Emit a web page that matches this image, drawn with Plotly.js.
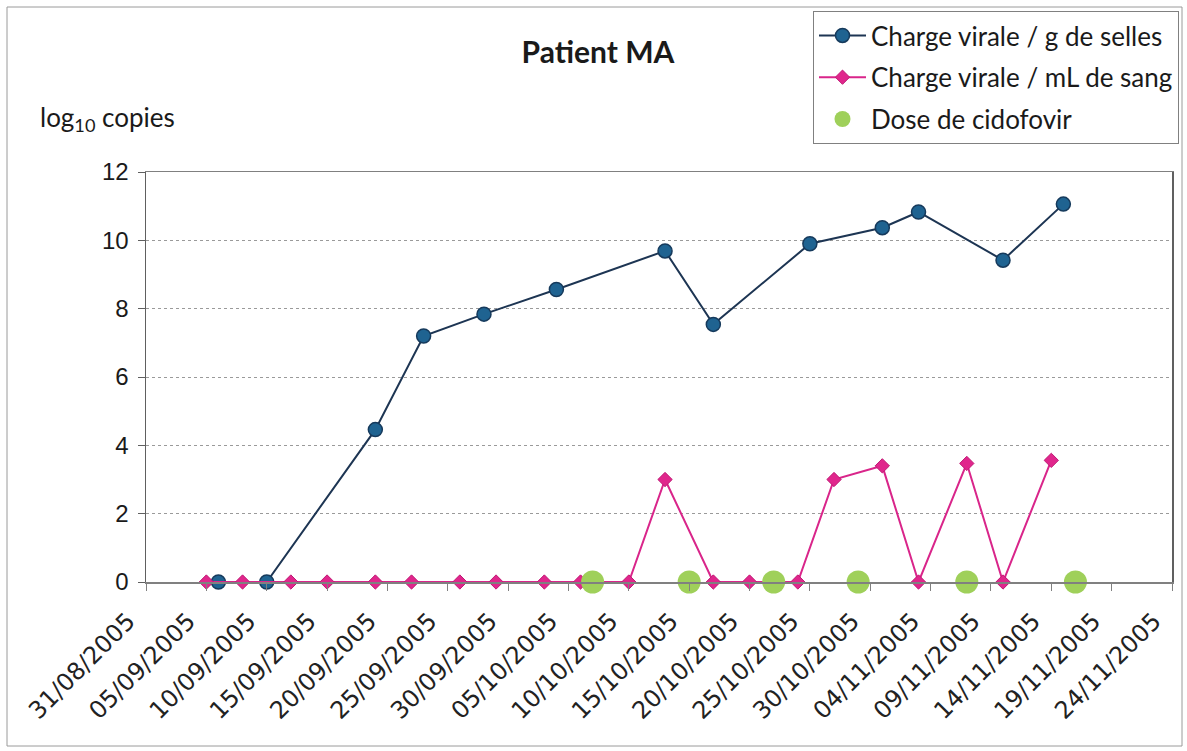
<!DOCTYPE html>
<html>
<head>
<meta charset="utf-8">
<script src="https://cdn.plot.ly/plotly-3.0.1.min.js"></script>
<style>html,body{margin:0;padding:0;background:#fff;}#chart{width:1187px;height:751px;}</style>
</head>
<body>
<div id="chart"></div>
<script>
// Data
var stoolDates = ['2005-09-06','2005-09-10','2005-09-19','2005-09-23','2005-09-28','2005-10-04','2005-10-13','2005-10-17','2005-10-25','2005-10-31','2005-11-03','2005-11-10','2005-11-15'];
var stoolValues = [0, 0, 4.46, 7.2, 7.84, 8.56, 9.69, 7.54, 9.9, 10.37, 10.83, 9.42, 11.06];

var bloodDates = ['2005-09-05','2005-09-08','2005-09-12','2005-09-15','2005-09-19','2005-09-22','2005-09-26','2005-09-29','2005-10-03','2005-10-06','2005-10-10','2005-10-13','2005-10-17','2005-10-20','2005-10-24','2005-10-27','2005-10-31','2005-11-03','2005-11-07','2005-11-10','2005-11-14'];
var bloodValues = [0, 0, 0, 0, 0, 0, 0, 0, 0, 0, 0, 3.0, 0, 0, 0, 3.0, 3.4, 0, 3.47, 0, 3.56];

var doseDates = ['2005-10-07','2005-10-15','2005-10-22','2005-10-29','2005-11-07','2005-11-16'];
var doseValues = [0, 0, 0, 0, 0, 0];

var seriesNames = ['Charge virale / g de selles', 'Charge virale / mL de sang', 'Dose de cidofovir'];
var titleText = 'Patient MA';
var yLabel = 'log<sub>10</sub> copies';

var textFont = 'Lato, "Open Sans", sans-serif';
var tickFont = '"DejaVu Sans", Verdana, sans-serif';

var traces = [
  {
    x: stoolDates, y: stoolValues, name: seriesNames[0], type: 'scatter', mode: 'lines+markers',
    legendgroup: 'a',
    line: {color: '#1d3553', width: 2},
    marker: {symbol: 'circle', size: 14, color: '#1f6391', line: {color: '#163a5c', width: 1.5}},
    cliponaxis: false
  },
  {
    x: bloodDates, y: bloodValues, name: seriesNames[1], type: 'scatter', mode: 'lines+markers',
    legendgroup: 'b',
    line: {color: '#d9258a', width: 2},
    marker: {symbol: 'diamond', size: 11, color: '#e0268c', line: {color: '#c01a75', width: 1}},
    cliponaxis: false
  },
  {
    x: doseDates, y: doseValues, name: seriesNames[2], type: 'scatter', mode: 'markers',
    legendgroup: 'c',
    marker: {symbol: 'circle', size: 23, color: '#9fd05a', line: {width: 0}},
    cliponaxis: false
  }
];

// plot area in pixels: x 146..1172, y 172..582
var L = 146, R = 1172, T = 172, B = 582;
function px(xp) { return (xp - L) / (R - L); }
function py(yp) { return (B - yp) / (B - T); }

var layout = {
  width: 1187, height: 751,
  margin: {l: L, r: 1187 - R, t: T, b: 751 - B, autoexpand: false},
  paper_bgcolor: '#ffffff', plot_bgcolor: '#ffffff',
  showlegend: true,
  title: {
    text: '<b>' + titleText + '</b>',
    font: {family: textFont, size: 30, color: '#1a1a1a'},
    x: 598 / 1187, xref: 'container', xanchor: 'center',
    y: 1 - 52 / 751, yref: 'container', yanchor: 'middle'
  },
  xaxis: {
    type: 'date',
    range: ['2005-08-31', '2005-11-24'],
    tick0: '2005-08-31', dtick: 5 * 86400000,
    tickformat: '%d/%m/%Y',
    tickangle: -45,
    tickfont: {family: tickFont, size: 24, color: '#222222'},
    ticks: 'outside', ticklen: 7, tickcolor: '#808080',
    ticklabelstandoff: 7,
    ticklabelshift: -18,
    showgrid: false, zeroline: false,
    showline: true, linecolor: '#808080', linewidth: 1.5, mirror: true,
    fixedrange: true
  },
  yaxis: {
    range: [0, 12], dtick: 2, tick0: 0,
    tickfont: {family: '"Liberation Sans", Arial, sans-serif', size: 24, color: '#1a1a1a'},
    ticks: 'outside', ticklen: 7, tickcolor: '#606060',
    ticklabelstandoff: 4,
    showgrid: true, gridcolor: '#9a9a9a', gridwidth: 1, griddash: '3px,3px',
    zeroline: false,
    showline: true, linecolor: '#606060', linewidth: 1.5, mirror: true,
    fixedrange: true
  },
  legend: {
    x: px(813), y: py(11), xanchor: 'left', yanchor: 'top',
    bgcolor: '#ffffff', bordercolor: '#808080', borderwidth: 1,
    font: {family: textFont, size: 26, color: '#1a1a1a'},
    itemwidth: 47,
    tracegroupgap: 5
  },
  annotations: [
    {
      text: yLabel, xref: 'paper', yref: 'paper',
      x: px(38), y: py(118), xanchor: 'left', yanchor: 'middle',
      showarrow: false,
      font: {family: textFont, size: 26, color: '#1a1a1a'}
    }
  ],
  shapes: [
    {
      type: 'rect', xref: 'paper', yref: 'paper', layer: 'below',
      x0: px(7), x1: px(1182), y0: py(746), y1: py(7),
      line: {color: '#9a9a9a', width: 1}
    }
  ]
};

Plotly.newPlot('chart', traces, layout, {displayModeBar: false, staticPlot: true});
</script>
</body>
</html>
